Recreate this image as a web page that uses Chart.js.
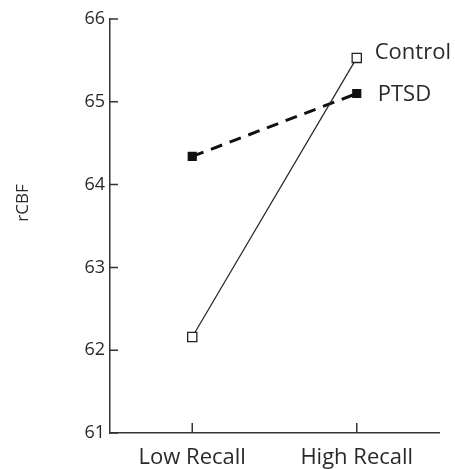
<!DOCTYPE html>
<html>
<head>
<meta charset="utf-8">
<script src="https://cdn.jsdelivr.net/npm/chart.js@4"></script>
<style>
  html, body { margin: 0; padding: 0; background: #fff; }
  #wrap { width: 455px; height: 469px; }
</style>
</head>
<body>
<div id="wrap"><canvas id="chart"></canvas></div>
<script>
// values
const conditions = ["Low Recall", "High Recall"];
const controlValues = [62.16, 65.53];
const ptsdValues = [64.34, 65.10];
const yTicks = [61, 62, 63, 64, 65, 66];
const yTitle = "rCBF";

const FONT = "'Open Sans', sans-serif";
const INK = "#2a2a2a";

// small tick marks that point into the plot, the y title and the end-of-line labels
const innerTicks = {
  id: "innerTicks",
  afterDraw(chart) {
    const ctx = chart.ctx;
    const x = chart.scales.x, y = chart.scales.y;
    const area = chart.chartArea;
    ctx.save();
    ctx.strokeStyle = "#333";
    ctx.lineWidth = 1.5;
    ctx.beginPath();
    yTicks.forEach(v => {
      const py = y.getPixelForValue(v);
      ctx.moveTo(area.left, py);
      ctx.lineTo(area.left + 8, py);
    });
    conditions.forEach((c, i) => {
      const px = x.getPixelForValue(i);
      ctx.moveTo(px, area.bottom);
      ctx.lineTo(px, area.bottom - 10);
    });
    ctx.stroke();

    ctx.fillStyle = INK;
    ctx.textBaseline = "middle";

    // rotated axis title, sitting a little above the middle of the axis
    ctx.save();
    ctx.font = "17px " + FONT;
    ctx.translate(23, (area.top + area.bottom) / 2 - 23);
    ctx.rotate(-Math.PI / 2);
    ctx.textAlign = "center";
    ctx.fillText(yTitle, 0, 0);
    ctx.restore();

    ctx.font = "22px " + FONT;
    chart.data.datasets.forEach((ds, i) => {
      const pts = chart.getDatasetMeta(i).data;
      const last = pts[pts.length - 1];
      ctx.fillText(ds.label, last.x + ds.labelDx, last.y + ds.labelDy);
    });
    ctx.restore();
  }
};

new Chart(document.getElementById("chart"), {
  type: "line",
  data: {
    labels: conditions,
    datasets: [
      {
        label: "Control",
        data: controlValues,
        borderColor: "#222",
        borderWidth: 1.2,
        pointStyle: "rect",
        pointRadius: 6.5,
        pointBorderWidth: 1.3,
        pointBackgroundColor: "#fff",
        pointBorderColor: "#222",
        labelDx: 18,
        labelDy: -5
      },
      {
        label: "PTSD",
        data: ptsdValues,
        borderColor: "#111",
        borderWidth: 3,
        borderDash: [12, 8],
        pointStyle: "rect",
        pointRadius: 6.5,
        pointBorderWidth: 0,
        pointBackgroundColor: "#111",
        labelDx: 21,
        labelDy: 1
      }
    ]
  },
  options: {
    responsive: true,
    maintainAspectRatio: false,
    animation: false,
    layout: { padding: { top: 19, right: 16, left: 0, bottom: 0 } },
    plugins: {
      legend: { display: false },
      tooltip: { enabled: false }
    },
    scales: {
      x: {
        type: "category",
        offset: true,
        grid: { display: false, drawTicks: false },
        border: { display: true, color: "#333", width: 1.5 },
        ticks: { color: INK, font: { family: FONT, size: 22 }, padding: 12, maxRotation: 0 },
        afterFit(s) { s.height = 36; }
      },
      y: {
        min: 61,
        max: 66,
        grid: { display: false, drawTicks: false },
        border: { display: true, color: "#333", width: 1.5 },
        ticks: {
          stepSize: 1,
          color: INK,
          font: { family: FONT, size: 18 },
          padding: 5
        },
        afterFit(s) { s.width = 110; }
      }
    }
  },
  plugins: [innerTicks]
});
</script>
</body>
</html>
